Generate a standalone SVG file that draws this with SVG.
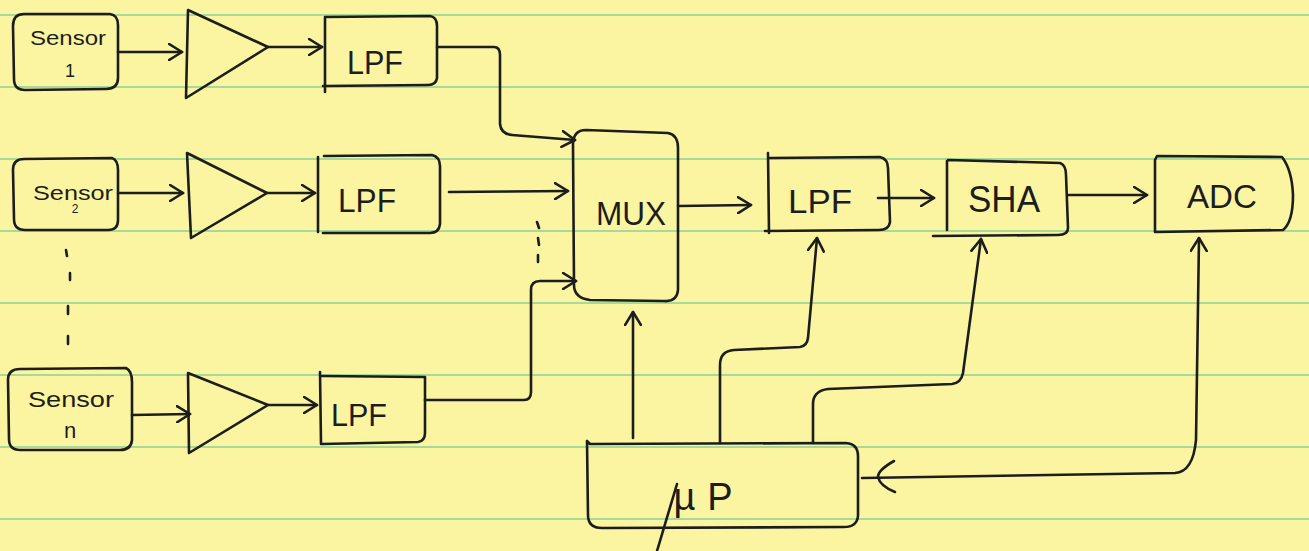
<svg xmlns="http://www.w3.org/2000/svg" width="1309" height="551" viewBox="0 0 1309 551">
  <defs>
    <style>
      .rule { stroke: #6cc896; stroke-width: 1.5; opacity: 0.8; }
      .ink { fill: none; stroke: #1d1d1b; stroke-width: 2.6; stroke-linecap: round; stroke-linejoin: round; }
      .lbl { fill: #1d1d1b; font-family: "Liberation Sans", "DejaVu Sans", sans-serif; text-anchor: middle; }
      .wire { fill: none; stroke: #1d1d1b; stroke-width: 2.6; stroke-linecap: round; stroke-linejoin: round; }
      .arr { marker-end: url(#chev); }
    </style>
    <marker id="chev" viewBox="0 0 16 18" refX="14" refY="9" markerWidth="16" markerHeight="18" markerUnits="userSpaceOnUse" orient="auto-start-reverse">
      <path d="M1,1 L14,9 L1,17" fill="none" stroke="#1d1d1b" stroke-width="2.6" stroke-linecap="round" stroke-linejoin="round"/>
    </marker>
  </defs>

  <!-- legal pad paper -->
  <rect x="0" y="0" width="1309" height="551" fill="#fbf5a2"/>
  <g id="ruling">
    <line class="rule" x1="0" y1="15" x2="1309" y2="15"/>
    <line class="rule" x1="0" y1="87" x2="1309" y2="87"/>
    <line class="rule" x1="0" y1="159" x2="1309" y2="159"/>
    <line class="rule" x1="0" y1="231" x2="1309" y2="231"/>
    <line class="rule" x1="0" y1="303" x2="1309" y2="303"/>
    <line class="rule" x1="0" y1="375" x2="1309" y2="375"/>
    <line class="rule" x1="0" y1="447" x2="1309" y2="447"/>
    <line class="rule" x1="0" y1="519" x2="1309" y2="519"/>
  </g>

  <!-- sensor chain 1 -->
  <g id="sensor1">
    <path class="ink" d="M24,14 L110,14 Q118,15 118,25 L118,78 Q118,89 106,89 L25,90 Q14,90 14,79 L13,26 Q13,14 24,14 Z"/>
    <text class="lbl" x="68" y="45" font-size="21" textLength="76" lengthAdjust="spacingAndGlyphs">Sensor</text>
    <text class="lbl" x="70" y="77" font-size="18">1</text>
  </g>
  <g id="amp1">
    <path class="ink" d="M188,10 L268,47 L186,98 Z"/>
  </g>
  <g id="lpf1">
    <path class="ink" d="M325,92 L325,17 L430,16 Q437,17 437,26 L437,78 Q436,85 428,85 L323,86"/>
    <text class="lbl" x="375" y="74" font-size="34" textLength="56" lengthAdjust="spacingAndGlyphs">LPF</text>
  </g>

  <!-- sensor chain 2 -->
  <g id="sensor2">
    <path class="ink" d="M24,159 L112,158 Q118,160 118,170 L118,220 Q118,230 108,230 L25,230 Q14,230 14,219 L13,170 Q13,159 24,159 Z"/>
    <text class="lbl" x="73" y="200" font-size="21" textLength="80" lengthAdjust="spacingAndGlyphs">Sensor</text>
    <text class="lbl" x="75" y="213" font-size="12">2</text>
  </g>
  <g id="amp2">
    <path class="ink" d="M187,153 L267,193 L191,238 Z"/>
  </g>
  <g id="lpf2">
    <path class="ink" d="M318,232 L318,157 M324,156 L432,155 Q440,157 440,166 L440,224 Q439,233 430,233 L323,233"/>
    <text class="lbl" x="367" y="212" font-size="34" textLength="58" lengthAdjust="spacingAndGlyphs">LPF</text>
  </g>

  <!-- sensor chain n -->
  <g id="sensorn">
    <path class="ink" d="M20,369 L126,368 Q132,371 132,382 L132,440 Q131,450 120,450 L20,450 Q9,450 9,439 L8,380 Q8,369 20,369 Z"/>
    <text class="lbl" x="71" y="407" font-size="22" textLength="86" lengthAdjust="spacingAndGlyphs">Sensor</text>
    <text class="lbl" x="70" y="438" font-size="22">n</text>
  </g>
  <g id="ampn">
    <path class="ink" d="M188,373 L268,405 L189,453 Z"/>
  </g>
  <g id="lpfn">
    <path class="ink" d="M320,372 L321,444 L418,442 Q425,441 425,433 L425,377 L322,376"/>
    <text class="lbl" x="359" y="426" font-size="32" textLength="56" lengthAdjust="spacingAndGlyphs">LPF</text>
  </g>

  <!-- multiplexer -->
  <g id="mux">
    <path class="ink" d="M586,130 L668,133 Q678,135 678,148 L678,290 Q677,302 664,301 L590,300 Q574,298 574,285 L573,145 Q573,130 586,130 Z"/>
    <text class="lbl" x="631" y="225" font-size="34" textLength="70" lengthAdjust="spacingAndGlyphs">MUX</text>
  </g>

  <!-- filter after the multiplexer -->
  <g id="lpf">
    <path class="ink" d="M768,153 L769,233 M770,158 L880,157 Q888,159 888,168 L890,222 Q889,230 879,230 L765,231"/>
    <text class="lbl" x="820" y="213" font-size="34" textLength="64" lengthAdjust="spacingAndGlyphs">LPF</text>
  </g>

  <!-- sample and hold -->
  <g id="sha">
    <path class="ink" d="M947,161 L947,230 M948,160 L1060,163 Q1066,165 1066,175 L1068,228 Q1068,235 1058,235 L933,236"/>
    <text class="lbl" x="1004" y="212" font-size="36" textLength="72" lengthAdjust="spacingAndGlyphs">SHA</text>
  </g>

  <!-- converter -->
  <g id="adc">
    <path class="ink" d="M1157,156 L1282,157 Q1292,170 1293,195 Q1293,222 1283,230 L1155,232 L1155,160 Z"/>
    <text class="lbl" x="1222" y="208" font-size="34" textLength="70" lengthAdjust="spacingAndGlyphs">ADC</text>
  </g>

  <!-- controller -->
  <g id="up">
    <path class="ink" d="M587,441 L590,444 L846,443 Q858,444 858,456 L858,516 Q857,527 844,527 L602,528 Q588,528 588,515 L587,441"/>
    <text class="lbl" x="709" y="510" font-size="38" letter-spacing="12">µP</text>
    <path class="ink" d="M677,484 L657,551"/>
  </g>

  <!-- signal and control connections -->
  <g id="connectors">
    <path class="wire arr" d="M118,52 L182,52"/>
    <path class="wire arr" d="M268,47 L322,47"/>
    <path class="wire arr" d="M118,193 L183,193"/>
    <path class="wire arr" d="M267,193 L315,193"/>
    <path class="wire arr" d="M132,415 L190,414"/>
    <path class="wire arr" d="M268,405 L317,405"/>

    <path class="wire arr" d="M437,47 L494,47 Q500,47 500,55 L500,124 Q501,134 512,135 L575,140"/>
    <path class="wire arr" d="M449,192 L568,191"/>
    <path class="wire arr" d="M425,400 L524,400 Q531,400 531,392 L531,290 Q531,281 540,281 L576,281"/>

    <path class="wire arr" d="M678,206 L751,205"/>
    <path class="wire arr" d="M878,198 L934,198"/>
    <path class="wire arr" d="M1068,195 L1147,195"/>

    <path class="wire arr" d="M633,438 L633,312"/>
    <path class="wire arr" d="M720,443 L720,365 Q720,351 734,350 L800,347 Q807,346 808,338 L817,238"/>
    <path class="wire arr" d="M813,443 L813,404 Q813,391 828,389 L952,384 Q961,383 963,373 L981,239"/>
    <path class="wire" d="M1199,238 L1196,440 Q1193,472 1175,473 L862,478" marker-start="url(#chev)"/>
    <path d="M894,461 Q878,470 878,477 Q880,486 895,492" fill="none" stroke="#1d1d1b" stroke-width="2.6" stroke-linecap="round"/>
  </g>

  <!-- continuation marks for the sensor and input lists -->
  <g id="ellipsis">
    <path class="ink" d="M66,250 L67,256 M70,273 L70,280 M68,306 L68,314 M68,336 L68,344"/>
    <path class="ink" d="M537,222 L539,228 M538,238 L539,245 M538,255 L538,262"/>
  </g>
</svg>
